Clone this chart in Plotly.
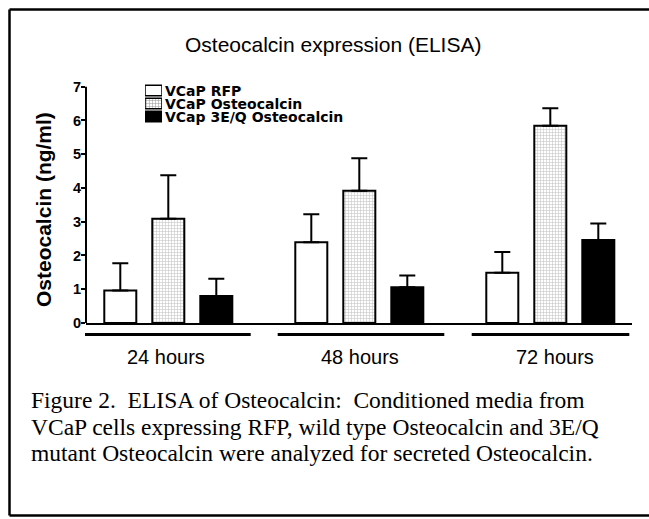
import plotly.graph_objects as go

# ---- data ----
groups = ["24 hours", "48 hours", "72 hours"]
series_names = ["VCaP RFP", "VCaP Osteocalcin", "VCap 3E/Q Osteocalcin"]
rfp_mean = [0.96, 2.39, 1.49]
rfp_err = [0.81, 0.83, 0.61]
osteo_mean = [3.09, 3.92, 5.84]
osteo_err = [1.29, 0.96, 0.52]
mut_mean = [0.80, 1.06, 2.46]
mut_err = [0.51, 0.35, 0.49]
y_ticks = [0, 1, 2, 3, 4, 5, 6, 7]
title_text = "Osteocalcin expression (ELISA)"
y_title = "Osteocalcin (ng/ml)"
caption_lines = [
    "Figure 2.\u00a0 ELISA of Osteocalcin:\u00a0 Conditioned media from",
    "VCaP cells expressing RFP, wild type Osteocalcin and 3E/Q",
    "mutant Osteocalcin were analyzed for secreted Osteocalcin.",
]

# ---- styling ----
SANS = "Liberation Sans, Arial, sans-serif"
WIDE = "DejaVu Sans, Liberation Sans, sans-serif"
SERIF = "Liberation Serif, Times New Roman, serif"
W, H = 649, 519
L, R = 86, 632          # plot left/right px
T, B = 80, 323          # plot top/bottom px
ymax_px = 86.7          # px of y = 7
y_top = 7 * (B - T) / (B - ymax_px)

def px_x(px):
    return (px - L) / (R - L)

def px_y(py):
    return (B - py) / (B - T)

x_idx = list(range(len(groups)))
grid = dict(shape="+", fgcolor="#8c8c8c", bgcolor="white", size=3, solidity=0.35)
styles = [
    dict(color="white", pattern=dict(shape="")),
    dict(color="white", pattern=grid),
    dict(color="black", pattern=dict(shape="")),
]
means = [rfp_mean, osteo_mean, mut_mean]
errs = [rfp_err, osteo_err, mut_err]

fig = go.Figure()
for name, m, e, st in zip(series_names, means, errs, styles):
    fig.add_trace(go.Bar(
        x=x_idx, y=m, name=name,
        marker=dict(color=st["color"], pattern=st["pattern"], line=dict(color="black", width=2)),
        error_y=dict(type="data", array=e, arrayminus=[0] * len(e), symmetric=False,
                     color="black", thickness=2, width=8),
        showlegend=False,
    ))

# legend swatches as a tiny bar chart
fig.add_trace(go.Bar(
    x=[1, 1, 1], y=[0, 1, 2], orientation="h", xaxis="x2", yaxis="y2",
    marker=dict(color=[s["color"] for s in styles],
                pattern=dict(shape=["", "+", ""], fgcolor="#8c8c8c", size=3, solidity=0.35),
                line=dict(color="black", width=1.5)),
    width=0.8, showlegend=False, hoverinfo="skip",
))

span = 1 / 191.0  # data units per px
x0 = -(168.3 - L) * span
x1 = (R - 168.3) * span

shapes = []
shapes.append(dict(type="line", xref="paper", yref="y", x0=0, x1=0, y0=0, y1=7,
                   line=dict(color="black", width=2)))
under = [(85, 250.7), (277.7, 444.3), (471.7, 629.3)]
for a, b in under:
    shapes.append(dict(type="line", xref="paper", yref="paper", x0=px_x(a), x1=px_x(b),
                       y0=px_y(334.5), y1=px_y(334.5), line=dict(color="black", width=3)))
# frame: left, top, bottom edges (right edge lies outside the picture)
fl, ft, fb, fr = px_x(9.5), px_y(9.5), px_y(515.5), px_x(660)
for (a, b, c, d) in [(fl, ft, fl, fb), (fl, ft, fr, ft), (fl, fb, fr, fb)]:
    shapes.append(dict(type="line", xref="paper", yref="paper", x0=a, y0=b, x1=c, y1=d,
                       line=dict(color="black", width=2.5)))

annotations = []
annotations.append(dict(text=title_text, xref="paper", yref="paper", x=px_x(333), y=px_y(44),
                        showarrow=False, xanchor="center", yanchor="middle",
                        font=dict(family=SANS, size=21, color="black")))
annotations.append(dict(text=y_title, xref="paper", yref="paper", x=px_x(43), y=px_y(210),
                        showarrow=False, textangle=-90, xanchor="center", yanchor="middle",
                        font=dict(family=SANS, size=21, color="black", weight="bold")))
label_px = [166, 360, 555]
for g, lp in zip(groups, label_px):
    annotations.append(dict(text=g, xref="paper", yref="paper", x=px_x(lp), y=px_y(357),
                            showarrow=False, xanchor="center", yanchor="middle",
                            font=dict(family=SANS, size=20, color="black")))
for i, n in enumerate(series_names):
    annotations.append(dict(text=n, xref="paper", yref="y2", x=px_x(163), y=i,
                            showarrow=False, xanchor="left", yanchor="middle",
                            font=dict(family=WIDE, size=14, color="black", weight="bold")))
for line, ly in zip(caption_lines, [400, 426.7, 453.4]):
    annotations.append(dict(text=line, xref="paper", yref="paper",
                            x=px_x(29), y=px_y(ly), showarrow=False, xanchor="left",
                            yanchor="middle", align="left",
                            font=dict(family=SERIF, size=23.5, color="black")))

fig.update_layout(
    width=W, height=H,
    margin=dict(l=L, r=W - R, t=T, b=H - B, pad=0),
    paper_bgcolor="white", plot_bgcolor="white",
    barmode="group", bargap=0.246, bargroupgap=0.333,
    xaxis=dict(range=[x0, x1], showline=True, linecolor="black", linewidth=2,
               showticklabels=False, ticks="", showgrid=False, zeroline=False, fixedrange=True),
    yaxis=dict(range=[0, y_top], showline=False, tickvals=y_ticks, ticks="outside",
               ticklen=4, tickwidth=2, tickcolor="black", showgrid=False, zeroline=False,
               ticklabelstandoff=-3,
               tickfont=dict(family=SANS, size=14.5, color="black", weight="bold")),
    xaxis2=dict(domain=[px_x(145), px_x(162)], range=[0, 1], visible=False, anchor="y2"),
    yaxis2=dict(domain=[px_y(123), px_y(84)], range=[2.5, -0.5], visible=False, anchor="x2"),
    shapes=shapes, annotations=annotations,
    showlegend=False,
)

fig.write_html(
    "out.html",
    config={"displayModeBar": False},
    post_script="document.body.style.margin='0px';document.body.style.overflow='hidden';",
)
